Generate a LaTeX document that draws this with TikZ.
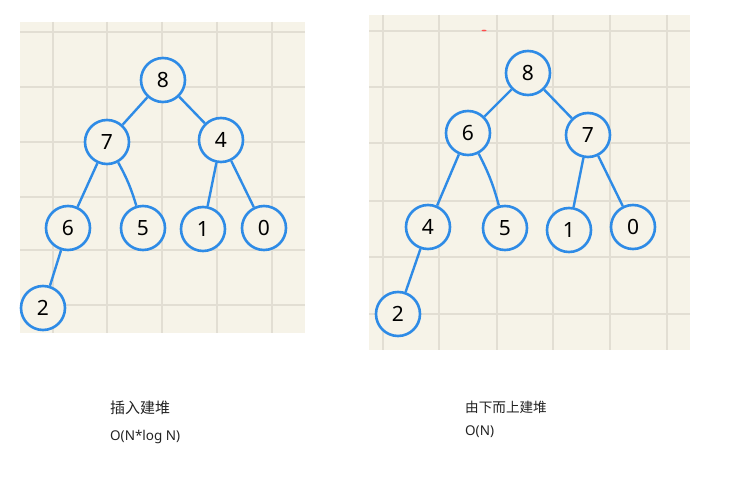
\documentclass[tikz,border=0pt]{standalone}
\usepackage{fontspec}
\setmainfont{Noto Sans}
\newfontfamily\cjk{Noto Sans CJK SC}
\definecolor{paper}{HTML}{F6F3E8}
\definecolor{gridc}{HTML}{E2DED3}
\definecolor{heapblue}{HTML}{2E8BE6}
\definecolor{txt}{HTML}{222222}
\tikzset{
  hnode/.style={circle, draw=heapblue, line width=2.6pt, fill=paper, minimum size=44pt, inner sep=0pt, font=\fontsize{21}{21}\selectfont, text=black},
  hedge/.style={heapblue, line width=2.4pt},
  gridline/.style={gridc, line width=1.6pt},
  caption/.style={anchor=west, font=\cjk\fontsize{13}{14}\selectfont, text=txt, inner sep=0pt},
  cplx/.style={anchor=west, font=\fontsize{13.5}{15}\selectfont, text=txt, inner sep=0pt}
}
\begin{document}
\begin{tikzpicture}[x=1pt,y=-1pt]
\useasboundingbox (0,0) rectangle (734,481);
\fill[white] (0,0) rectangle (734,481);
% left panel
\fill[paper] (20,22) rectangle (305,333);
\foreach \x in {53,107,162,217,272} \draw[gridline] (\x,22) -- (\x,333);
\foreach \y in {32,87,142,197,250,305} \draw[gridline] (20,\y) -- (305,\y);
% right panel
\fill[paper] (369,15) rectangle (690,350);
\foreach \x in {383,439,497,553,610,667} \draw[gridline] (\x,15) -- (\x,350);
\foreach \y in {31,87,143,201,257,314} \draw[gridline] (369,\y) -- (690,\y);
\fill[red!70] (484,30.5) ellipse (2.5 and 0.8);

% left tree
\node[hnode] (a8) at (163,80) {8};
\node[hnode] (a7) at (107,142) {7};
\node[hnode] (a4) at (221,140) {4};
\node[hnode] (a6) at (68,228) {6};
\node[hnode] (a5) at (143,228) {5};
\node[hnode] (a1) at (203,229) {1};
\node[hnode] (a0) at (264,228) {0};
\node[hnode] (a2) at (43,308) {2};
\draw[hedge] (a8) -- (a7);
\draw[hedge] (a8) -- (a4);
\draw[hedge] (a7) -- (a6);
\draw[hedge] (a7) to[bend left=6] (a5);
\draw[hedge] (a4) -- (a1);
\draw[hedge] (a4) -- (a0);
\draw[hedge] (a6) -- (a2);

% right tree
\node[hnode] (b8) at (528,73) {8};
\node[hnode] (b6) at (468,133) {6};
\node[hnode] (b7) at (588,135) {7};
\node[hnode] (b4) at (428,227) {4};
\node[hnode] (b5) at (505,228) {5};
\node[hnode] (b1) at (569,230) {1};
\node[hnode] (b0) at (633,227) {0};
\node[hnode] (b2) at (398,314) {2};
\draw[hedge] (b8) -- (b6);
\draw[hedge] (b8) -- (b7);
\draw[hedge] (b6) -- (b4);
\draw[hedge] (b6) to[bend left=6] (b5);
\draw[hedge] (b7) -- (b1);
\draw[hedge] (b7) -- (b0);
\draw[hedge] (b4) -- (b2);

% captions
\node[caption, font=\cjk\fontsize{15}{16}\selectfont] (c1) at (110,408) {插入建堆};
\node[cplx] (c2) at (110,437) {O(N*log N)};
\node[caption, font=\cjk\fontsize{13.6}{15}\selectfont] (c3) at (465,407) {由下而上建堆};
\node[cplx] (c4) at (465,432) {O(N)};
\end{tikzpicture}
\end{document}
